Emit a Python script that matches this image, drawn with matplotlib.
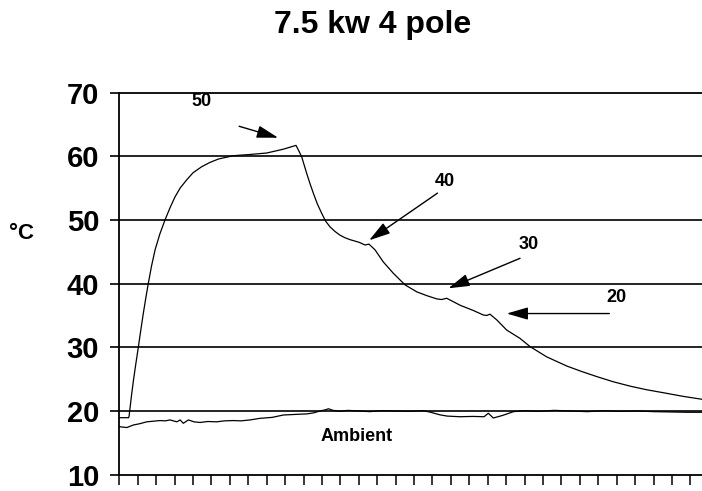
import numpy as np
import matplotlib
matplotlib.use('Agg')
import matplotlib.pyplot as plt

plt.rcParams['font.family'] = ['Liberation Sans', 'DejaVu Sans']
plt.rcParams['font.weight'] = 'bold'

# Motor temperature trace
motor_x = [0, 0.5, 0.53, 0.65, 0.77, 0.9, 1.03, 1.17, 1.3, 1.44, 1.57, 1.75, 1.94, 2.2,
           2.48, 2.75, 3.02, 3.3, 3.66, 4.0, 4.47, 4.9, 5.38, 6.19, 7.0, 8.0, 8.9, 9.59,
           9.75, 9.9, 10.17, 10.35, 10.53, 10.75, 10.99, 11.2, 11.44, 11.7, 11.98, 12.25,
           12.52, 13.0, 13.34, 13.55, 13.88, 14.33, 14.88, 15.51, 16.15, 16.7, 17.23, 17.5,
           17.77, 18.5, 19.2, 19.76, 19.95, 20.12, 20.49, 21.03, 21.75, 22.3, 23.2, 24.29,
           25.1, 25.92, 26.8, 27.73, 28.6, 29.53, 30.6, 31.63]
motor_y = [18.95, 18.95, 19.2, 22.2, 24.9, 27.5, 30.0, 32.8, 35.3, 37.8, 40.0, 42.8, 45.3,
           47.8, 50.0, 51.9, 53.6, 55.0, 56.3, 57.4, 58.35, 59.0, 59.56, 60.08, 60.25, 60.5,
           61.1, 61.7, 60.8, 59.9, 57.3, 55.7, 54.2, 52.5, 51.0, 49.8, 48.9, 48.2, 47.6,
           47.2, 46.9, 46.5, 46.06, 46.2, 45.3, 43.4, 41.6, 39.8, 38.7, 38.1, 37.6, 37.5,
           37.7, 36.6, 35.8, 35.07, 35.0, 35.2, 34.3, 32.7, 31.4, 30.1, 28.5, 27.06, 26.2,
           25.4, 24.6, 23.9, 23.35, 22.87, 22.3, 21.84]

# Ambient trace
amb_x = [0, 0.4, 0.76, 1.1, 1.49, 1.85, 2.21, 2.5, 2.75, 3.12, 3.3, 3.47, 3.75, 4.05, 4.38,
         4.8, 5.29, 5.7, 6.19, 6.6, 7.1, 7.64, 8.3, 8.9, 9.81, 10.2, 10.53, 10.9, 11.2,
         11.35, 11.6, 12.0, 12.4, 13.0, 13.6, 14.2, 15.0, 15.8, 16.5, 16.9, 17.4, 17.8,
         18.5, 19.2, 19.8, 20.03, 20.3, 20.8, 21.4, 22.0, 22.8, 23.6, 24.5, 25.4, 26.3,
         27.2, 28.1, 29.0, 29.9, 30.8, 31.63]
amb_y = [17.54, 17.4, 17.8, 18.0, 18.3, 18.4, 18.5, 18.45, 18.6, 18.3, 18.6, 18.07, 18.6,
         18.3, 18.2, 18.35, 18.3, 18.45, 18.5, 18.45, 18.6, 18.85, 19.0, 19.37, 19.5, 19.55,
         19.7, 20.0, 20.2, 20.35, 20.1, 19.95, 20.1, 20.0, 19.9, 20.05, 20.0, 19.95, 20.05,
         19.8, 19.4, 19.2, 19.1, 19.15, 19.1, 19.65, 18.9, 19.3, 19.9, 20.05, 19.95, 20.1,
         20.0, 19.9, 20.05, 19.95, 20.0, 19.9, 19.85, 19.8, 19.8]

y_ticks = [10, 20, 30, 40, 50, 60, 70]
grid_levels = [20, 30, 40, 50, 60]

# arrow labels: (text, label pos, arrow tail, arrow tip)
arrow_labels = ['50', '40', '30', '20']
label_pos = [(4.47, 68.6), (17.68, 56.1), (22.24, 46.06), (26.97, 37.8)]
arrow_tail = [(6.5, 64.7), (17.27, 54.2), (21.75, 43.97), (26.6, 35.3)]
arrow_tip = [(8.62, 62.9), (13.56, 46.8), (17.86, 39.26), (21.03, 35.3)]

fig = plt.figure(figsize=(7.02, 4.91), dpi=100)
ax = fig.add_axes([0.17, 0.0332, 0.83, 0.7784])

for lv in grid_levels:
    ax.axhline(lv, color='black', linewidth=1.2, zorder=1)

ax.plot(motor_x, motor_y, color='black', linewidth=0.9, zorder=3)
ax.plot(amb_x, amb_y, color='black', linewidth=0.9, zorder=3)

for lab, lp, tail, tip in zip(arrow_labels, label_pos, arrow_tail, arrow_tip):
    ax.text(lp[0], lp[1], lab, fontsize=13, fontweight='bold', ha='center', va='center')
    ax.annotate('', xy=tip, xytext=tail,
                arrowprops=dict(arrowstyle='-|>,head_length=1.3,head_width=0.38',
                                mutation_scale=10, color='black', lw=1.0,
                                shrinkA=0, shrinkB=0))

ax.text(12.87, 16.0, 'Ambient', fontsize=13, fontweight='bold', ha='center', va='center')

ax.set_xlim(0, 31.63)
ax.set_ylim(10, 70)
ax.set_xticks(np.arange(0, 32))
ax.set_xticklabels([])
ax.set_yticks(y_ticks)
ax.set_yticklabels([str(t) for t in y_ticks], fontsize=21, fontweight='bold')
ax.tick_params(axis='x', direction='out', length=7, width=1.1)
ax.tick_params(axis='y', direction='out', length=6.5, width=1.2, pad=8)

ax.spines['right'].set_visible(False)
for s in ['top', 'left', 'bottom']:
    ax.spines[s].set_linewidth(1.3)

fig.text(21 / 702, 1 - 233.7 / 491, '°C', fontsize=16, fontweight='bold',
         ha='center', va='center')
fig.text(373 / 702, 1 - 25 / 491, '7.5 kw 4 pole', fontsize=23, fontweight='bold',
         ha='center', va='center')

fig.savefig('out.png', dpi=100)
